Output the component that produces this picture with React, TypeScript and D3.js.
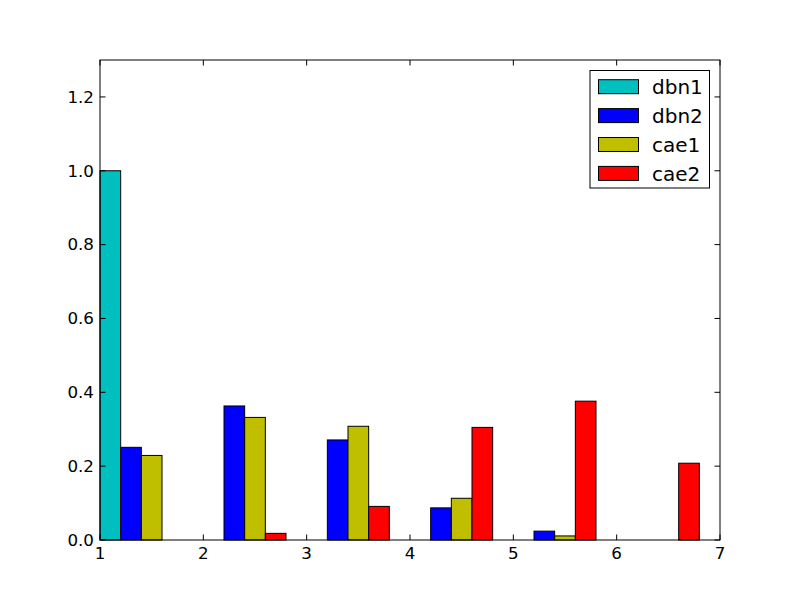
import React from "react";
import * as d3 from "d3";

const groups = [1, 2, 3, 4, 5, 6];
const seriesNames = ["dbn1", "dbn2", "cae1", "cae2"];
const seriesColors = ["#00bfbf", "#0000ff", "#bfbf00", "#ff0000"];
const dbn1 = [1.0, 0, 0, 0, 0, 0];
const dbn2 = [0.251, 0.363, 0.271, 0.087, 0.024, 0];
const cae1 = [0.229, 0.332, 0.308, 0.113, 0.011, 0];
const cae2 = [0, 0.018, 0.091, 0.305, 0.376, 0.208];
const seriesValues = [dbn1, dbn2, cae1, cae2];
const xTicks = [1, 2, 3, 4, 5, 6, 7];
const yTicks = [0, 0.2, 0.4, 0.6, 0.8, 1.0, 1.2];
const barWidth = 0.2;

export default function App() {
  const W = 800, H = 600;
  const left = 100, right = 720, top = 60, bottom = 540;
  const x = d3.scaleLinear().domain([1, 7]).range([left, right]);
  const y = d3.scaleLinear().domain([0, 1.3]).range([bottom, top]);
  const font = "DejaVu Sans, sans-serif";
  const tickLen = 5.5;

  return (
    <div style={{ position: "absolute", left: 0, top: 0 }}>
      <svg width={W} height={H} style={{ display: "block", background: "#fff" }}>
        <rect x={0} y={0} width={W} height={H} fill="#fff" />
        {seriesValues.map((vals, si) =>
          vals.map((v, gi) => {
            const x0 = x(groups[gi] + si * barWidth);
            const x1 = x(groups[gi] + (si + 1) * barWidth);
            return (
              <rect
                key={`${si}-${gi}`}
                x={x0}
                y={y(v)}
                width={x1 - x0}
                height={y(0) - y(v)}
                fill={seriesColors[si]}
                stroke="#000"
                strokeWidth={1}
              />
            );
          })
        )}
        <rect x={left} y={top} width={right - left} height={bottom - top} fill="none" stroke="#000" strokeWidth={1} />
        {xTicks.map((t) => (
          <g key={`x${t}`}>
            <line x1={x(t)} x2={x(t)} y1={bottom} y2={bottom - tickLen} stroke="#000" />
            <line x1={x(t)} x2={x(t)} y1={top} y2={top + tickLen} stroke="#000" />
            <text x={x(t)} y={bottom + 19} textAnchor="middle" fontFamily={font} fontSize={16.7} fill="#000">
              {t}
            </text>
          </g>
        ))}
        {yTicks.map((t) => (
          <g key={`y${t}`}>
            <line x1={left} x2={left + tickLen} y1={y(t)} y2={y(t)} stroke="#000" />
            <line x1={right} x2={right - tickLen} y1={y(t)} y2={y(t)} stroke="#000" />
            <text x={left - 6} y={y(t)} dy="0.35em" textAnchor="end" fontFamily={font} fontSize={16.7} fill="#000">
              {t.toFixed(1)}
            </text>
          </g>
        ))}
        <g>
          <rect x={590} y={70.5} width={119.5} height={117.5} fill="#fff" stroke="#000" strokeWidth={1} />
          {seriesNames.map((n, i) => {
            const cy = 86.7 + i * 28.9;
            return (
              <g key={n}>
                <rect x={598.5} y={cy - 7} width={40} height={14} fill={seriesColors[i]} stroke="#000" strokeWidth={1} />
                <text x={652} y={cy} dy="0.36em" fontFamily={font} fontSize={20} fill="#000">
                  {n}
                </text>
              </g>
            );
          })}
        </g>
      </svg>
    </div>
  );
}
